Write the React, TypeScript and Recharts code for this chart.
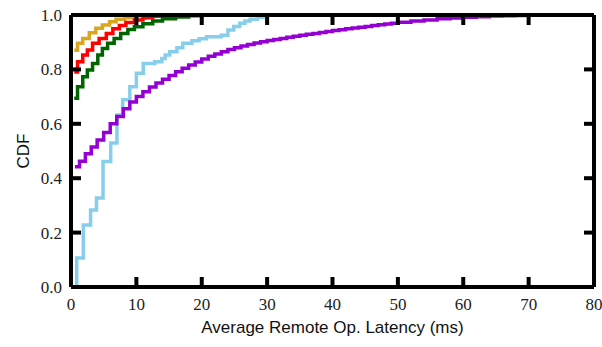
import React from "react";
import { LineChart, Line, XAxis, YAxis, ReferenceLine } from "recharts";

// CDF step curves, [latency ms, cumulative fraction]
const goldPts = [
  [0.5, 0.87], [1.0, 0.896], [1.8, 0.914], [2.8, 0.935], [3.8, 0.951], [4.8, 0.963],
  [5.9, 0.975], [6.9, 0.984], [8.2, 0.99], [9.4, 0.996], [11, 1.0], [80, 1.0],
];
const redPts = [
  [0.5, 0.79], [1.0, 0.828], [1.8, 0.853], [2.5, 0.871], [3.3, 0.896], [4.3, 0.914],
  [5.4, 0.932], [6.4, 0.949], [7.4, 0.961], [8.4, 0.972], [9.7, 0.982], [11, 0.99],
  [12.5, 0.995], [14, 1.0], [80, 1.0],
];
const greenPts = [
  [0.5, 0.694], [1.0, 0.736], [1.8, 0.773], [2.5, 0.798], [3.3, 0.822], [4.1, 0.853],
  [4.8, 0.877], [5.6, 0.896], [6.6, 0.914], [7.6, 0.932], [8.7, 0.947], [9.7, 0.957],
  [11, 0.968], [12.5, 0.978], [14, 0.986], [16, 0.993], [18, 0.997], [20, 1.0], [80, 1.0],
];
const bluePts = [
  [0.87, 0], [0.87, 0.107], [1.88, 0.228], [3.0, 0.283], [3.9, 0.327], [4.9, 0.461],
  [6.07, 0.529], [7.03, 0.632], [7.9, 0.688], [9.0, 0.736], [10.0, 0.786], [11.05, 0.822],
  [12.8, 0.828], [13.9, 0.84], [14.4, 0.853], [15.1, 0.865], [16.2, 0.88], [17.1, 0.896],
  [18.5, 0.905], [19.6, 0.913], [20.7, 0.92], [23.0, 0.926], [24.0, 0.945], [24.9, 0.958],
  [25.8, 0.97], [26.6, 0.978], [27.4, 0.984], [28.5, 0.992], [29.7, 1.0], [80, 1.0],
];
const purplePts = [
  [0.6, 0.442], [1.3, 0.462], [2.2, 0.49], [3.1, 0.515], [4, 0.54], [5, 0.568],
  [6, 0.6], [7, 0.627], [8, 0.655], [9, 0.68], [10, 0.7], [11, 0.718], [12, 0.735],
  [13, 0.75], [14, 0.764], [15, 0.778], [16, 0.791], [17, 0.804], [18, 0.816],
  [19, 0.827], [20, 0.838], [21, 0.848], [22, 0.857], [23, 0.865], [24, 0.873],
  [25, 0.88], [26, 0.886], [27, 0.892], [28, 0.897], [29, 0.902], [30, 0.906],
  [31, 0.91], [32, 0.914], [33, 0.918], [34, 0.922], [35, 0.926], [36, 0.929],
  [37, 0.932], [38, 0.936], [39, 0.939], [40, 0.943], [41, 0.946], [42, 0.949],
  [43, 0.952], [44, 0.955], [45, 0.958], [46, 0.961], [47, 0.964], [48, 0.967],
  [49, 0.97], [50, 0.973], [52, 0.978], [54, 0.982], [56, 0.986], [58, 0.989],
  [60, 0.992], [62, 0.994], [64, 0.996], [66, 0.997], [68, 0.998], [70, 0.999],
  [74, 1.0], [80, 1.0],
];

const xTicks = [0, 10, 20, 30, 40, 50, 60, 70, 80];
const yTicks = [0, 0.2, 0.4, 0.6, 0.8, 1.0];
const xTitle = "Average Remote Op. Latency (ms)";
const yTitle = "CDF";

const series = [
  { key: "gold", color: "#DAA520", pts: goldPts },
  { key: "red", color: "#FF0000", pts: redPts },
  { key: "green", color: "#006400", pts: greenPts },
  { key: "blue", color: "#87CEEB", pts: bluePts },
  { key: "purple", color: "#9400D3", pts: purplePts },
];

// one shared table: each row holds a single series' point, lines use connectNulls
const rows = series
  .flatMap((s) => s.pts.map(([x, y], i) => ({ x, i, [s.key]: y })))
  .sort((a, b) => a.x - b.x || a.i - b.i);

const W = 602;
const H = 347;
const margin = { top: 15, right: 8, left: 0, bottom: 0 };
const Y_AXIS_W = 71;
const X_AXIS_H = 60;
const PLOT_TOP = margin.top;
const PLOT_RIGHT = W - margin.right;
const PLOT_BOTTOM = H - margin.bottom - X_AXIS_H;
const TICK_LEN = 10;
// inward tick length expressed in axis units, for the bottom / left frame marks
const X_MARK_LEN = TICK_LEN / (PLOT_BOTTOM - PLOT_TOP);
const Y_MARK_LEN = (TICK_LEN * 80) / (PLOT_RIGHT - Y_AXIS_W);
const SERIF = "'Liberation Serif', 'DejaVu Serif', serif";
const SANS = "'Liberation Sans', 'DejaVu Sans', sans-serif";

// bottom ticks: label plus the mirrored mark on the top frame
const BottomTick = (props: any) => {
  const { x, y, payload } = props;
  return (
    <g>
      <line x1={x} x2={x} y1={PLOT_TOP} y2={PLOT_TOP + TICK_LEN} stroke="#000" strokeWidth={4} />
      <text x={x} y={Number(y) + 23} textAnchor="middle" fontFamily={SERIF} fontSize={17} fill="#222">
        {payload.value}
      </text>
    </g>
  );
};
// left ticks: label plus the mirrored mark on the right frame
const LeftTick = (props: any) => {
  const { x, y, payload } = props;
  return (
    <g>
      <line x1={PLOT_RIGHT} x2={PLOT_RIGHT - TICK_LEN} y1={y} y2={y} stroke="#000" strokeWidth={4} />
      <text x={Number(x) - 9} y={Number(y) + 6} textAnchor="end" fontFamily={SERIF} fontSize={17} fill="#222">
        {Number(payload.value).toFixed(1)}
      </text>
    </g>
  );
};

export default function App() {
  return (
    <div
      style={{
        position: "absolute",
        left: 0,
        top: 0,
        width: W,
        height: H,
        fontFamily: SERIF,
        fontSize: 17,
      }}
    >
      <LineChart width={W} height={H} margin={margin} data={rows}>
        <XAxis
          dataKey="x"
          type="number"
          domain={[0, 80]}
          ticks={xTicks}
          interval={0}
          height={X_AXIS_H}
          tickSize={0}
          tickMargin={0}
          stroke="#222"
          axisLine={{ stroke: "#000", strokeWidth: 4 }}
          tickLine={false}
          tick={BottomTick}
        />
        <YAxis
          type="number"
          domain={[0, 1]}
          ticks={yTicks}
          interval={0}
          width={Y_AXIS_W}
          tickSize={0}
          tickMargin={0}
          stroke="#222"
          axisLine={{ stroke: "#000", strokeWidth: 4 }}
          tickLine={false}
          tick={LeftTick}
        />
        {series.map((s) => (
          <Line
            key={s.key}
            dataKey={s.key}
            type="stepAfter"
            connectNulls
            stroke={s.color}
            strokeWidth={3.5}
            dot={false}
            isAnimationActive={false}
          />
        ))}
        {xTicks.map((t) => (
          <ReferenceLine
            key={`xm-${t}`}
            segment={[{ x: t, y: 0 }, { x: t, y: X_MARK_LEN }]}
            stroke="#000"
            strokeWidth={4}
          />
        ))}
        {yTicks.map((t) => (
          <ReferenceLine
            key={`ym-${t}`}
            segment={[{ x: 0, y: t }, { x: Y_MARK_LEN, y: t }]}
            stroke="#000"
            strokeWidth={4}
          />
        ))}
        <ReferenceLine y={1} stroke="#000" strokeWidth={4} />
        <ReferenceLine x={80} stroke="#000" strokeWidth={4} />
      </LineChart>
      <div
        style={{
          position: "absolute",
          left: Y_AXIS_W,
          width: PLOT_RIGHT - Y_AXIS_W,
          top: 318,
          lineHeight: "20px",
          textAlign: "center",
          fontFamily: SANS,
          fontSize: 17,
          color: "#111",
        }}
      >
        {xTitle}
      </div>
      <div
        style={{
          position: "absolute",
          left: 24,
          top: 151,
          transform: "translate(-50%, -50%) rotate(-90deg)",
          lineHeight: "20px",
          fontFamily: SANS,
          fontSize: 17,
          color: "#111",
          whiteSpace: "nowrap",
        }}
      >
        {yTitle}
      </div>
    </div>
  );
}
